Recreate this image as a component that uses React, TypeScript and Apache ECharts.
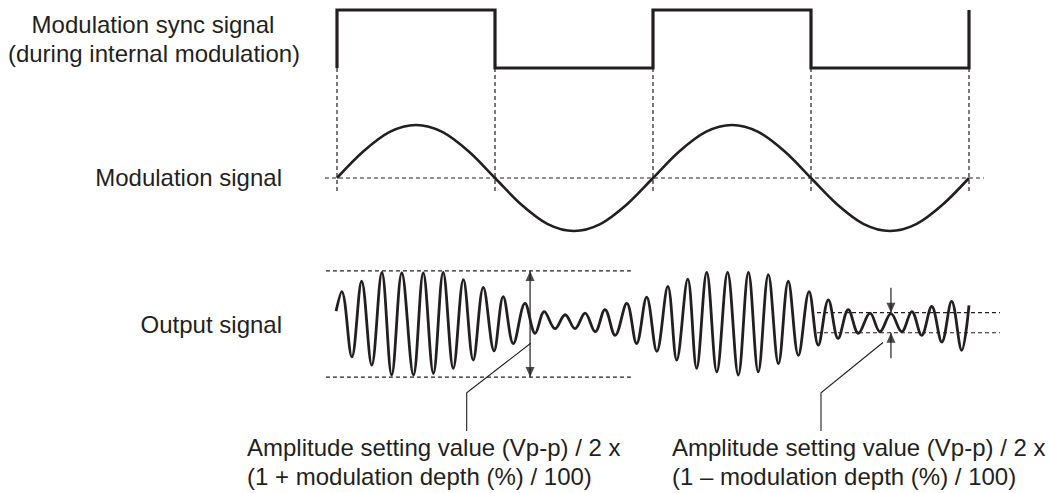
import React, { useEffect, useRef } from "react";
import * as echarts from "echarts";

// ---- Data (time in modulation periods) ----
const syncTimes = [0, 0, 0.5, 0.5, 1, 1, 1.5, 1.5, 2, 2];
const syncLevels = [-1, 1, 1, -1, -1, 1, 1, -1, -1, 1];
const edgeTimes = [0, 0.5, 1, 1.5, 2];

const modTimes = [0, 0.083, 0.167, 0.25, 0.333, 0.417, 0.5, 0.583, 0.667, 0.75, 0.833, 0.917, 1,
  1.083, 1.167, 1.25, 1.333, 1.417, 1.5, 1.583, 1.667, 1.75, 1.833, 1.917, 2];
const modValues = [0, 0.5, 0.87, 1, 0.87, 0.5, 0, -0.5, -0.87, -1, -0.87, -0.5, 0,
  0.5, 0.87, 1, 0.87, 0.5, 0, -0.5, -0.87, -1, -0.87, -0.5, 0];

const outTimes = [-0.003, 0.015, 0.047, 0.078, 0.110, 0.142, 0.173, 0.205, 0.242, 0.273, 0.305, 0.336,
  0.368, 0.400, 0.431, 0.463, 0.497, 0.526, 0.558, 0.595, 0.627, 0.656, 0.690, 0.722, 0.753, 0.785,
  0.817, 0.848, 0.880, 0.917, 0.948, 0.980, 1.012, 1.047, 1.075, 1.110, 1.138, 1.170, 1.202, 1.236,
  1.270, 1.302, 1.333, 1.365, 1.397, 1.428, 1.460, 1.494, 1.523, 1.555, 1.586, 1.618, 1.650, 1.687,
  1.718, 1.753, 1.787, 1.819, 1.850, 1.882, 1.914, 1.945, 1.977, 2.000];
const outValues = [0.25, 0.63, -0.64, 0.83, -0.80, 1.00, -0.99, 0.99, -0.99, 0.99, -0.96, 1.00, -0.86,
  0.86, -0.70, 0.71, -0.52, 0.53, -0.38, 0.40, -0.18, 0.24, -0.09, 0.18, -0.09, 0.21, -0.15, 0.28,
  -0.22, 0.40, -0.38, 0.52, -0.53, 0.73, -0.70, 0.87, -0.86, 1.00, -0.93, 1.00, -0.99, 1.00, -0.93,
  0.96, -0.77, 0.83, -0.61, 0.63, -0.41, 0.47, -0.28, 0.28, -0.18, 0.21, -0.15, 0.20, -0.15, 0.24,
  -0.22, 0.34, -0.35, 0.44, -0.51, 0.36];

// reference levels (output signal units)
const maxLevel = 1.03; // 1 + depth
const minLevelTop = 0.22; // 1 - depth (upper)
const minLevelBottom = -0.17; // 1 - depth (lower)
const bigArrowTime = 0.611;
const smallArrowTime = 1.753;

const labels = {
  sync1: "Modulation sync signal",
  sync2: "(during internal modulation)",
  mod: "Modulation signal",
  out: "Output signal",
  left1: "Amplitude setting value (Vp-p) / 2 x",
  left2: "(1 + modulation depth (%) / 100)",
  right1: "Amplitude setting value (Vp-p) / 2 x",
  right2: "(1 \u2013 modulation depth (%) / 100)",
};

const INK = "#231f20";
const FONT = '24px "Liberation Sans", Arial, Helvetica, sans-serif';

const zip = (a: number[], b: number[]) => a.map((v, i) => [v, b[i]]);

function buildOption() {
  const X_MIN = -0.1;
  const X_MAX = 2.1;
  const gridLeft = 305.4;
  const gridWidth = 695.2;
  const grids = [
    { left: gridLeft, width: gridWidth, top: 10, height: 58 },
    { left: gridLeft, width: gridWidth, top: 125, height: 106 },
    { left: gridLeft, width: gridWidth, top: 272.5, height: 103 },
  ];
  const xAxis = grids.map((_, i) => ({ type: "value", gridIndex: i, min: X_MIN, max: X_MAX, show: false }));
  const yAxis = grids.map((_, i) => ({ type: "value", gridIndex: i, min: -1, max: 1, show: false }));

  const dashed = { color: INK, width: 1.2, type: [4, 3] as any };
  const seg = (g: number, data: number[][], style: any, extra: any = {}) => ({
    type: "line",
    xAxisIndex: g,
    yAxisIndex: g,
    data,
    symbol: "none",
    showSymbol: false,
    clip: false,
    silent: true,
    lineStyle: style,
    ...extra,
  });

  const series: any[] = [];
  // Square sync wave
  series.push(seg(0, zip(syncTimes, syncLevels), { color: INK, width: 3.2, join: "miter", cap: "butt" }));
  // vertical dashed guides at sync edges
  edgeTimes.forEach((t) => series.push(seg(1, [[t, 2.075], [t, -0.27]], dashed)));
  // zero line of modulation signal
  series.push(seg(1, [[-0.038, 0], [2.047, 0]], dashed));
  // modulation signal
  series.push(seg(1, zip(modTimes, modValues), { color: INK, width: 2.6 }, { smooth: 0.33 }));
  // output dashed references
  series.push(seg(2, [[-0.035, maxLevel], [0.934, maxLevel]], dashed));
  series.push(seg(2, [[-0.035, -maxLevel], [0.934, -maxLevel]], dashed));
  series.push(seg(2, [[1.519, minLevelTop], [2.098, minLevelTop]], dashed));
  series.push(seg(2, [[1.519, minLevelBottom], [2.098, minLevelBottom]], dashed));
  // output signal
  series.push(seg(2, zip(outTimes, outValues), { color: INK, width: 2.8 }, { smooth: 0.36 }));
  // big double arrow
  series.push(seg(2, [[bigArrowTime, maxLevel], [bigArrowTime, -maxLevel]], { color: INK, width: 1.2 }));
  // small arrows
  series.push(seg(2, [[smallArrowTime, 0.705], [smallArrowTime, minLevelTop]], { color: INK, width: 1.2 }));
  series.push(seg(2, [[smallArrowTime, -0.666], [smallArrowTime, minLevelBottom]], { color: INK, width: 1.2 }));
  const head = (x: number, y: number, up: boolean) => ({
    type: "scatter",
    xAxisIndex: 2,
    yAxisIndex: 2,
    data: [[x, y]],
    symbol: "triangle",
    symbolSize: [9, 10],
    symbolRotate: up ? 0 : 180,
    symbolOffset: [0, up ? 5 : -5],
    itemStyle: { color: INK },
    silent: true,
    clip: false,
  });
  series.push(head(bigArrowTime, maxLevel, true));
  series.push(head(bigArrowTime, -maxLevel, false));
  series.push(head(smallArrowTime, minLevelTop, false));
  series.push(head(smallArrowTime, minLevelBottom, true));

  const txt = (text: string, x: number, y: number, align: string) => ({
    type: "text",
    x,
    y,
    silent: true,
    style: { text, fill: INK, font: FONT, align, verticalAlign: "middle", textAlign: align, textVerticalAlign: "middle" },
  });
  const graphic = [
    txt(labels.sync1, 153, 24, "center"),
    txt(labels.sync2, 154, 53, "center"),
    txt(labels.mod, 282, 177, "right"),
    txt(labels.out, 282, 324, "right"),
    txt(labels.left1, 247, 447, "left"),
    txt(labels.left2, 247, 476, "left"),
    txt(labels.right1, 672, 447, "left"),
    txt(labels.right2, 672, 476, "left"),
    {
      type: "polyline",
      silent: true,
      shape: { points: [[530.7, 343.3], [466.7, 392.7], [466.7, 431]] },
      style: { stroke: INK, lineWidth: 1.1, fill: null },
    },
    {
      type: "polyline",
      silent: true,
      shape: { points: [[883, 342.5], [821, 392.7], [821, 431]] },
      style: { stroke: INK, lineWidth: 1.1, fill: null },
    },
  ];

  return {
    animation: false,
    backgroundColor: "#ffffff",
    grid: grids,
    xAxis,
    yAxis,
    series,
    graphic,
  };
}

export default function App() {
  const ref = useRef<HTMLDivElement>(null);
  useEffect(() => {
    if (!ref.current) return;
    const chart = echarts.init(ref.current, null, { renderer: "svg" });
    chart.setOption(buildOption() as any);
    return () => chart.dispose();
  }, []);
  return (
    <div
      ref={ref}
      style={{ position: "fixed", left: 0, top: 0, width: 1048, height: 493, background: "#fff" }}
    />
  );
}
